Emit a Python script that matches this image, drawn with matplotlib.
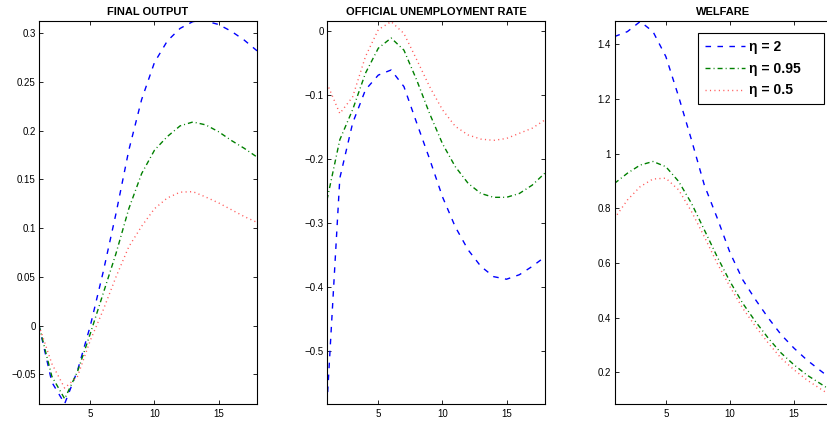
import matplotlib
matplotlib.use('Agg')
import matplotlib.pyplot as plt
from matplotlib.ticker import FuncFormatter

plt.rcParams['font.family'] = ['Liberation Sans', 'DejaVu Sans']

# quarters after the shock
quarters = list(range(1, 19))

# final output
out_eta2 = [0.0, -0.058, -0.080, -0.046, 0.0, 0.055, 0.115, 0.180, 0.232, 0.270,
            0.292, 0.305, 0.312, 0.3125, 0.309, 0.302, 0.293, 0.282]
out_eta095 = [0.0, -0.052, -0.075, -0.047, -0.008, 0.033, 0.074, 0.120, 0.156, 0.180,
              0.194, 0.205, 0.209, 0.206, 0.199, 0.190, 0.182, 0.173]
out_eta05 = [0.0, -0.039, -0.064, -0.052, -0.015, 0.016, 0.050, 0.081, 0.102, 0.120,
             0.131, 0.137, 0.1375, 0.132, 0.126, 0.119, 0.112, 0.106]

# official unemployment rate
unemp_eta2 = [-0.583, -0.230, -0.144, -0.092, -0.069, -0.061, -0.087, -0.144, -0.200, -0.259,
              -0.306, -0.342, -0.368, -0.384, -0.388, -0.381, -0.368, -0.353]
unemp_eta095 = [-0.264, -0.170, -0.123, -0.066, -0.027, -0.011, -0.030, -0.077, -0.129, -0.176,
                -0.212, -0.238, -0.254, -0.260, -0.260, -0.254, -0.241, -0.222]
unemp_eta05 = [-0.082, -0.129, -0.103, -0.040, 0.002, 0.0146, -0.004, -0.045, -0.087, -0.123,
               -0.149, -0.1625, -0.169, -0.171, -0.168, -0.160, -0.152, -0.139]

# welfare
wel_eta2 = [1.428, 1.446, 1.483, 1.446, 1.355, 1.208, 1.050, 0.885, 0.765, 0.638,
            0.538, 0.465, 0.398, 0.337, 0.288, 0.245, 0.208, 0.172]
wel_eta095 = [0.891, 0.928, 0.958, 0.971, 0.952, 0.898, 0.818, 0.721, 0.623, 0.532,
              0.452, 0.385, 0.324, 0.270, 0.227, 0.190, 0.160, 0.130]
wel_eta05 = [0.763, 0.830, 0.879, 0.907, 0.910, 0.867, 0.788, 0.696, 0.599, 0.513,
             0.434, 0.367, 0.306, 0.251, 0.209, 0.172, 0.141, 0.111]

labels = ['\u03b7 = 2', '\u03b7 = 0.95', '\u03b7 = 0.5']
# colour, dash pattern (in units of line width)
styles = [('#0000ff', (0, (4.0, 4.6))),
          ('#008000', (0, (3.6, 2.2, 0.7, 2.2))),
          ('#ff5a5a', (0, (0.8, 2.4)))]

panels = [
    ('FINAL OUTPUT', [out_eta2, out_eta095, out_eta05], (-0.0803, 0.3126),
     [-0.05, 0, 0.05, 0.1, 0.15, 0.2, 0.25, 0.3]),
    ('OFFICIAL UNEMPLOYMENT RATE', [unemp_eta2, unemp_eta095, unemp_eta05], (-0.583, 0.0156),
     [-0.5, -0.4, -0.3, -0.2, -0.1, 0]),
    ('WELFARE', [wel_eta2, wel_eta095, wel_eta05], (0.084, 1.485),
     [0.2, 0.4, 0.6, 0.8, 1, 1.2, 1.4]),
]
lefts = [0.0472, 0.3954, 0.7431]

fmt = FuncFormatter(lambda v, p: f'{v:g}'.replace('-', '\u2212'))

fig = plt.figure(figsize=(8.27, 4.29), dpi=100)
for left, (title, series, ylim, yticks) in zip(lefts, panels):
    ax = fig.add_axes([left, 0.0583, 0.2636, 0.8928])
    for vals, (c, ls), lab in zip(series, styles, labels):
        ax.plot(quarters, vals, color=c, linestyle=ls, linewidth=1.0, label=lab)
    ax.set_xlim(1, 18)
    ax.set_ylim(*ylim)
    ax.set_xticks([5, 10, 15])
    ax.set_yticks(yticks)
    ax.yaxis.set_major_formatter(fmt)
    ax.tick_params(direction='in', top=True, right=True, length=3, width=0.6,
                   labelsize=7, colors='black')
    ax.tick_params(axis='y', pad=2.5)
    ax.tick_params(axis='x', pad=3.5)
    for sp in ax.spines.values():
        sp.set_linewidth(0.8)
    ax.set_title(title, fontsize=8, fontweight='bold', pad=4)

# MATLAB legends leave extra room on the right of the labels
leg = ax.legend([l + '    ' for l in labels], loc='upper left',
                bbox_to_anchor=(0.383, 0.968), borderaxespad=0,
                fancybox=False, framealpha=1, edgecolor='black',
                prop={'weight': 'bold', 'size': 10}, handlelength=2.9,
                handletextpad=0.3, labelspacing=0.55, borderpad=0.5)
leg.get_frame().set_linewidth(0.8)

plt.savefig('out.png', dpi=100)
